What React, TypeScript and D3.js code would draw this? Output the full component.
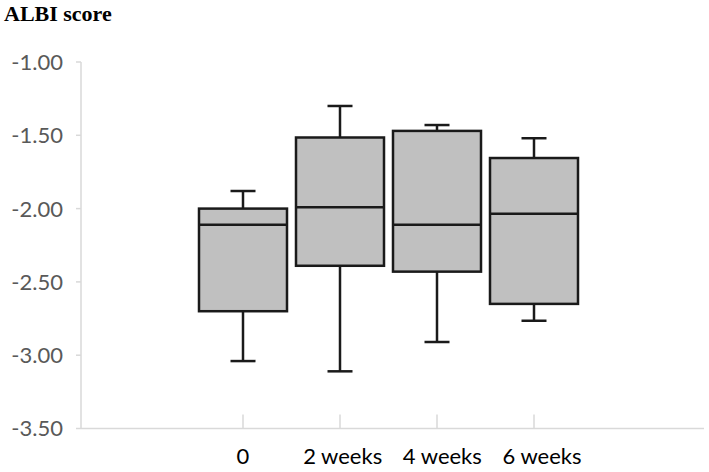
import React from "react";
import * as d3 from "d3";

const categories = ["0", "2 weeks", "4 weeks", "6 weeks"];
const whiskerHigh = [-1.88, -1.3, -1.43, -1.52];
const q3 = [-2.0, -1.515, -1.47, -1.655];
const median = [-2.11, -1.99, -2.11, -2.035];
const q1 = [-2.7, -2.39, -2.43, -2.65];
const whiskerLow = [-3.04, -3.11, -2.91, -2.765];
const yTicks = [-1.0, -1.5, -2.0, -2.5, -3.0, -3.5];

const width = 709;
const height = 472;
const axisX = 81;
const axisRight = 704;

const App = () => {
  const y = d3.scaleLinear().domain([-3.5, -1.0]).range([428.5, 62]);
  const x = d3.scalePoint<string>().domain(categories).range([243, 534]);
  // category labels sit a little wider apart than the ticks in the original
  const xLabel = d3.scalePoint<string>().domain(categories).range([243, 542]);
  const boxW = 88;
  const capW = 25;
  const font = "Lato, 'Open Sans', sans-serif";

  return (
    <svg
      width={width}
      height={height}
      style={{ position: "absolute", left: 0, top: 0, background: "#fff" }}
    >
      <text
        x={4}
        y={21}
        fontFamily="'Liberation Serif', 'Times New Roman', serif"
        fontWeight="bold"
        fontSize={22}
        fill="#000"
      >
        ALBI score
      </text>

      {/* y axis */}
      <line x1={axisX} x2={axisX} y1={y(-1.0)} y2={y(-3.5)} stroke="#d9d9d9" strokeWidth={1.5} />
      {yTicks.map((t) => (
        <g key={t}>
          <line x1={axisX - 5} x2={axisX} y1={y(t)} y2={y(t)} stroke="#d9d9d9" strokeWidth={1.5} />
          <text
            x={63}
            y={y(t)}
            dy="0.36em"
            textAnchor="end"
            fontFamily={font}
            fontSize={22}
            fill="#595959"
          >
            {t.toFixed(2)}
          </text>
        </g>
      ))}

      {/* x axis */}
      <line x1={axisX} x2={axisRight} y1={y(-3.5)} y2={y(-3.5)} stroke="#d9d9d9" strokeWidth={1.5} />
      {categories.map((c) => (
        <g key={c}>
          <line
            x1={x(c)}
            x2={x(c)}
            y1={y(-3.5)}
            y2={y(-3.5) - 14}
            stroke="#d9d9d9"
            strokeWidth={1.5}
          />
          <text
            x={xLabel(c)}
            y={464}
            textAnchor="middle"
            fontFamily={font}
            fontSize={22}
            fill="#000"
          >
            {c}
          </text>
        </g>
      ))}

      {/* boxes */}
      {categories.map((c, i) => {
        const cx = x(c) as number;
        return (
          <g key={c} stroke="#1a1a1a" strokeWidth={2.5}>
            <line x1={cx} x2={cx} y1={y(whiskerHigh[i])} y2={y(q3[i])} />
            <line x1={cx} x2={cx} y1={y(q1[i])} y2={y(whiskerLow[i])} />
            <line x1={cx - capW / 2} x2={cx + capW / 2} y1={y(whiskerHigh[i])} y2={y(whiskerHigh[i])} />
            <line x1={cx - capW / 2} x2={cx + capW / 2} y1={y(whiskerLow[i])} y2={y(whiskerLow[i])} />
            <rect
              x={cx - boxW / 2}
              y={y(q3[i])}
              width={boxW}
              height={y(q1[i]) - y(q3[i])}
              fill="#c0c0c0"
            />
            <line x1={cx - boxW / 2} x2={cx + boxW / 2} y1={y(median[i])} y2={y(median[i])} />
          </g>
        );
      })}
    </svg>
  );
};

export default App;
